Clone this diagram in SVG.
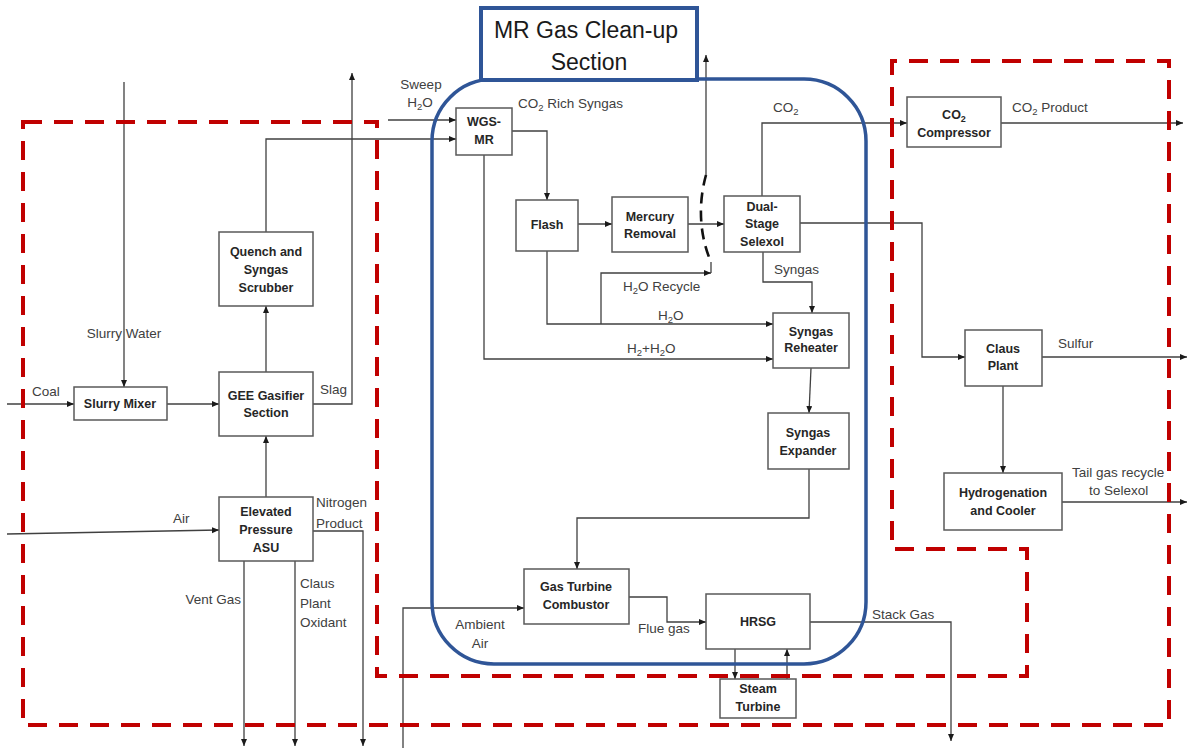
<svg xmlns="http://www.w3.org/2000/svg" width="1189" height="748" viewBox="0 0 1189 748">
<style>
.box{fill:#fff;stroke:#595959;stroke-width:1.5}
.bt{font-family:"Liberation Sans",Arial,sans-serif;font-size:12.5px;font-weight:bold;fill:#262626;text-anchor:middle}
.lb{font-family:"Liberation Sans",Arial,sans-serif;font-size:13.5px;fill:#404040}
.c{fill:none;stroke:#404040;stroke-width:1.3}
.a{marker-end:url(#ah)}
.title{font-family:"Liberation Sans",Arial,sans-serif;font-size:23px;fill:#1a1a1a;text-anchor:middle}
</style>
<defs>
<marker id="ah" markerUnits="userSpaceOnUse" markerWidth="8" markerHeight="7" refX="7" refY="3" orient="auto">
<path d="M0,0 L7,3 L0,6 z" fill="#1a1a1a"/>
</marker>
</defs>
<rect width="1189" height="748" fill="#fff"/>

<g id="connectors">
<path class="c a" d="M124,82 V387"/>
<path class="c a" d="M7,404 H74"/>
<path class="c a" d="M167,404 H219"/>
<path class="c a" d="M266,372 V306"/>
<path class="c a" d="M266,232 V139 H456"/>
<path class="c a" d="M388,120 H456"/>
<path class="c a" d="M313,404 H352 V73"/>
<path class="c a" d="M266,497 V436"/>
<path class="c a" d="M7,534 L219,530"/>
<path class="c a" d="M313,531 H363 V746"/>
<path class="c a" d="M244,561 V746"/>
<path class="c a" d="M295,561 V746"/>
<path class="c a" d="M403,748 V608 H524"/>
<path class="c a" d="M512,131 H547 V200"/>
<path class="c a" d="M484,155 V359 H773"/>
<path class="c a" d="M578,224 H612"/>
<path class="c a" d="M547,251 V324 H773"/>
<path class="c a" d="M601,324 V273 H711"/>
<path class="c" d="M711,273 V262"/>
<path class="c a" d="M688,224 H724"/>
<path class="c a" d="M706,175 V55"/>
<path d="M706,175 C699,200 698,232 711,262" fill="none" stroke="#111" stroke-width="2.6" stroke-dasharray="11,7"/>
<path class="c a" d="M762,196 V123 H907"/>
<path class="c a" d="M1001,123 H1183"/>
<path class="c a" d="M800,223 H922 V357 H965"/>
<path class="c a" d="M1042,357 H1187"/>
<path class="c a" d="M1003,386 V473"/>
<path class="c a" d="M1062,502 H1187"/>
<path class="c a" d="M763,252 V282 H812 V313"/>
<path class="c a" d="M811,368 L809,413"/>
<path class="c a" d="M809,469 V518 H577 V569"/>
<path class="c a" d="M629,597 H667 V622 H706"/>
<path class="c a" d="M810,622 H951 V741"/>
<path class="c a" d="M735,649 V679"/>
<path class="c a" d="M787,679 V649"/>
</g>

<g id="boundaries">
<path d="M23,122 H377 V676 H1027 V549 H892 V61 H1169 V725 H23 Z" fill="none" stroke="#C00000" stroke-width="4" stroke-dasharray="19,12"/>
<rect x="432" y="79" width="434" height="585" rx="62" ry="62" fill="none" stroke="#2F5597" stroke-width="3.5"/>
</g>

<g id="title">
<rect x="481" y="8" width="216" height="72" fill="#fff" stroke="#2F5597" stroke-width="4"/>
<text class="title" x="586" y="38">MR Gas Clean-up</text>
<text class="title" x="589" y="70">Section</text>
</g>

<g id="labels">
<text class="lb" x="124" y="338" text-anchor="middle">Slurry Water</text>
<text class="lb" x="32" y="396">Coal</text>
<text class="lb" x="320" y="394">Slag</text>
<text class="lb" x="173" y="523">Air</text>
<text class="lb" x="316" y="507">Nitrogen</text>
<text class="lb" x="316" y="528">Product</text>
<text class="lb" x="241" y="604" text-anchor="end">Vent Gas</text>
<text class="lb" x="300" y="588">Claus</text>
<text class="lb" x="300" y="608">Plant</text>
<text class="lb" x="300" y="627">Oxidant</text>
<text class="lb" x="421" y="89" text-anchor="middle">Sweep</text>
<text class="lb" x="420" y="107" text-anchor="middle">H<tspan font-size="9.5" dy="3">2</tspan><tspan dy="-3">O</tspan></text>
<text class="lb" x="518" y="108">CO<tspan font-size="9.5" dy="3">2</tspan><tspan dy="-3"> Rich Syngas</tspan></text>
<text class="lb" x="773" y="112">CO<tspan font-size="9.5" dy="3">2</tspan></text>
<text class="lb" x="1012" y="112">CO<tspan font-size="9.5" dy="3">2</tspan><tspan dy="-3"> Product</tspan></text>
<text class="lb" x="623" y="291">H<tspan font-size="9.5" dy="3">2</tspan><tspan dy="-3">O Recycle</tspan></text>
<text class="lb" x="658" y="320">H<tspan font-size="9.5" dy="3">2</tspan><tspan dy="-3">O</tspan></text>
<text class="lb" x="627" y="353">H<tspan font-size="9.5" dy="3">2</tspan><tspan dy="-3">+H</tspan><tspan font-size="9.5" dy="3">2</tspan><tspan dy="-3">O</tspan></text>
<text class="lb" x="774" y="274">Syngas</text>
<text class="lb" x="1058" y="348">Sulfur</text>
<text class="lb" x="1072" y="477">Tail gas recycle</text>
<text class="lb" x="1089" y="495">to Selexol</text>
<text class="lb" x="480" y="629" text-anchor="middle">Ambient</text>
<text class="lb" x="480" y="648" text-anchor="middle">Air</text>
<text class="lb" x="638" y="633">Flue gas</text>
<text class="lb" x="872" y="619">Stack Gas</text>
</g>

<g id="slurry-mixer"><rect class="box" x="74" y="387" width="93" height="33"/><text class="bt" x="120" y="408">Slurry Mixer</text></g>
<g id="gee-gasifier"><rect class="box" x="219" y="372" width="94" height="64"/><text class="bt" x="266" y="400">GEE Gasifier</text><text class="bt" x="266" y="417">Section</text></g>
<g id="quench"><rect class="box" x="219" y="232" width="94" height="74"/><text class="bt" x="266" y="256">Quench and</text><text class="bt" x="266" y="274">Syngas</text><text class="bt" x="266" y="292">Scrubber</text></g>
<g id="asu"><rect class="box" x="219" y="497" width="94" height="64"/><text class="bt" x="266" y="516">Elevated</text><text class="bt" x="266" y="534">Pressure</text><text class="bt" x="266" y="552">ASU</text></g>
<g id="wgs-mr"><rect class="box" x="456" y="108" width="56" height="47"/><text class="bt" x="484" y="126">WGS-</text><text class="bt" x="484" y="144">MR</text></g>
<g id="flash"><rect class="box" x="516" y="200" width="62" height="51"/><text class="bt" x="547" y="229">Flash</text></g>
<g id="mercury"><rect class="box" x="612" y="197" width="76" height="55"/><text class="bt" x="650" y="221">Mercury</text><text class="bt" x="650" y="238">Removal</text></g>
<g id="selexol"><rect class="box" x="724" y="196" width="76" height="56"/><text class="bt" x="762" y="211">Dual-</text><text class="bt" x="762" y="228">Stage</text><text class="bt" x="762" y="246">Selexol</text></g>
<g id="reheater"><rect class="box" x="773" y="313" width="76" height="55"/><text class="bt" x="811" y="336">Syngas</text><text class="bt" x="811" y="352">Reheater</text></g>
<g id="expander"><rect class="box" x="768" y="413" width="81" height="56"/><text class="bt" x="808" y="437">Syngas</text><text class="bt" x="808" y="455">Expander</text></g>
<g id="gt-combustor"><rect class="box" x="524" y="569" width="105" height="55"/><text class="bt" x="576" y="591">Gas Turbine</text><text class="bt" x="576" y="609">Combustor</text></g>
<g id="hrsg"><rect class="box" x="706" y="594" width="104" height="55"/><text class="bt" x="758" y="626">HRSG</text></g>
<g id="steam-turbine"><rect class="box" x="720" y="679" width="76" height="39"/><text class="bt" x="758" y="693">Steam</text><text class="bt" x="758" y="711">Turbine</text></g>
<g id="co2-compressor"><rect class="box" x="907" y="97" width="94" height="50"/><text class="bt" x="954" y="119">CO<tspan font-size="9" dy="3">2</tspan></text><text class="bt" x="954" y="137">Compressor</text></g>
<g id="claus"><rect class="box" x="965" y="330" width="77" height="56"/><text class="bt" x="1003" y="353">Claus</text><text class="bt" x="1003" y="370">Plant</text></g>
<g id="hydrogenation"><rect class="box" x="944" y="473" width="118" height="57"/><text class="bt" x="1003" y="497">Hydrogenation</text><text class="bt" x="1003" y="515">and Cooler</text></g>
</svg>
